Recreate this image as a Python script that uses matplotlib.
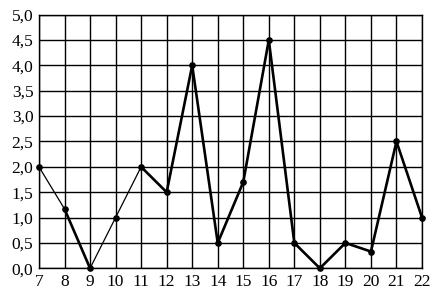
import matplotlib
matplotlib.use("Agg")
import matplotlib.pyplot as plt
from matplotlib.ticker import FuncFormatter

days = [7, 8, 9, 10, 11, 12, 13, 14, 15, 16, 17, 18, 19, 20, 21, 22]
values = [2.0, 1.17, 0.0, 1.0, 2.0, 1.5, 4.0, 0.5, 1.7, 4.5, 0.5, 0.0, 0.5, 0.33, 2.5, 1.0]
# segments drawn bold (index of segment start)
bold_segments = [1, 4, 5, 6, 7, 8, 9, 10, 11, 12, 13, 14]

plt.rcParams['font.family'] = ['Liberation Serif', 'DejaVu Serif']

fig = plt.figure(figsize=(4.37, 3.0), dpi=100)
ax = fig.add_axes([0.0892, 0.1057, 0.8765, 0.8453])

for i in range(len(days) - 1):
    lw = 1.9 if i in bold_segments else 0.9
    ax.plot(days[i:i + 2], values[i:i + 2], color='black', lw=lw,
            solid_capstyle='round', zorder=3, clip_on=False)
ax.plot(days, values, ls='none', marker='o', ms=3.8, color='black', zorder=4, clip_on=False)

ax.set_xlim(7, 22)
ax.set_ylim(0, 5)
ax.set_xticks(days)
ax.set_yticks([i * 0.5 for i in range(11)])
ax.yaxis.set_major_formatter(FuncFormatter(lambda v, p: f"{v:.1f}".replace('.', ',')))
ax.grid(True, color='black', lw=1.0)
ax.set_axisbelow(True)
for s in ax.spines.values():
    s.set_color('black')
    s.set_linewidth(1.0)
ax.tick_params(length=0, labelsize=12.5, pad=4)

fig.savefig('out.png', dpi=100)
